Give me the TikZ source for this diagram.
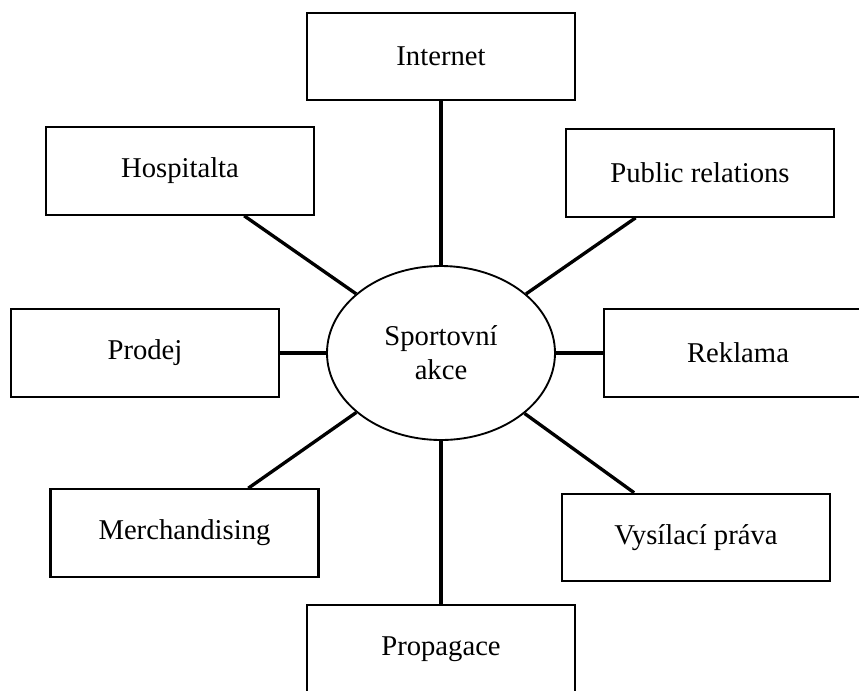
\documentclass[tikz,border=0pt]{standalone}
\usepackage{fontspec}
\setmainfont{Liberation Serif}
\usetikzlibrary{shapes.geometric}
\begin{document}
\begin{tikzpicture}[x=0.75pt,y=-0.75pt,
  box/.style={draw, line width=1.7pt, rectangle, minimum width=201pt, minimum height=65.5pt, inner sep=0pt, font=\fontsize{21.5}{25.5}\selectfont},
  hub/.style={draw, line width=1.4pt, ellipse, minimum width=171pt, minimum height=130.5pt, inner sep=0pt, align=center, font=\fontsize{21.5}{25.5}\selectfont},
  link/.style={line width=2.5pt}]
\useasboundingbox (0,0) rectangle (859,690);
\clip (0,0) rectangle (859,690);
\node[hub] (ell) at (441,353) {Sportovní\\akce};
\node[box] (inet) at (441,56.5) {Internet};
\node[box] (hosp) at (180,171) {Hospitalta};
\node[box] (pr) at (700,173) {Public relations};
\node[box] (prod) at (145,353) {Prodej};
\node[box] (rekl) at (738,353) {Reklama};
\node[box] (merch) at (184.5,533) {Merchandising};
\node[box] (vys) at (696,537.5) {Vysílací práva};
\node[box] (prop) at (441,649) {Propagace};
\foreach \n in {inet,hosp,pr,prod,rekl,merch,vys,prop}
  \draw[link] (\n) -- (ell);
\end{tikzpicture}
\end{document}
